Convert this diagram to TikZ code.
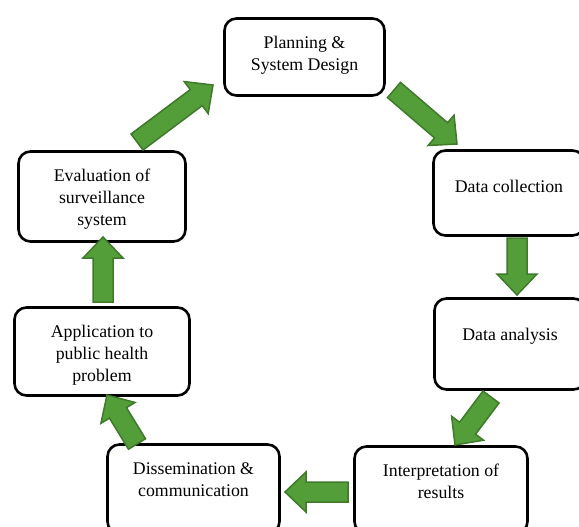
\documentclass[tikz,border=0pt]{standalone}
\usepackage{fontspec}
\setmainfont{Liberation Serif}
\usetikzlibrary{calc,positioning}
\definecolor{arrowgreen}{RGB}{84,158,58}
\definecolor{arrowedge}{RGB}{62,122,42}
% wide green arrow from #1 (tail) to #2 (tip)
\newcommand{\blockarrow}[2]{%
  \coordinate (hb) at ($(#2)!21pt!(#1)$);
  \filldraw[flow] ($(#1)!10pt!90:(#2)$) -- ($(hb)!10pt!90:(#2)$) -- ($(hb)!20pt!90:(#2)$) -- (#2)
    -- ($(hb)!20pt!-90:(#2)$) -- ($(hb)!10pt!-90:(#2)$) -- ($(#1)!10pt!-90:(#2)$) -- cycle;}

\begin{document}
\begin{tikzpicture}[x=1pt,y=-1pt,
  box/.style={draw, line width=2.6pt, rounded corners=12pt},
  lbl/.style={font=\fontsize{17.8}{22}\selectfont, align=center, inner sep=0pt},
  flow/.style={fill=arrowgreen, draw=arrowedge, line width=1.5pt, line join=miter}]
				\useasboundingbox (0,0) rectangle (579,527);
				
				\node[box, minimum width=160pt, minimum height=77pt] (plan) at (304.5,57) {};
				\node[lbl, below=19pt of plan.north] (plan-txt) {Planning \&\\System Design};
				
				\node[box, minimum width=151pt, minimum height=85pt] (collect) at (509,193) {};
				\node[lbl, below=31pt of collect.north] (collect-txt) {Data collection};
				
				\node[box, minimum width=151pt, minimum height=91pt] (analysis) at (510,344) {};
				\node[lbl, below=31pt of analysis.north] (analysis-txt) {Data analysis};
				
				\node[box, minimum width=173pt, minimum height=87pt] (interp) at (441,490) {};
				\node[lbl, below=19pt of interp.north] (interp-txt) {Interpretation of\\results};
				
				\node[box, minimum width=172pt, minimum height=89pt] (dissem) at (193.5,489) {};
				\node[lbl, below=19pt of dissem.north] (dissem-txt) {Dissemination \&\\communication};
				
				\node[box, minimum width=175pt, minimum height=88pt] (appl) at (102,351.5) {};
				\node[lbl, below=19pt of appl.north] (appl-txt) {Application to\\public health\\problem};
				
				\node[box, minimum width=167pt, minimum height=90pt] (eval) at (102,196.5) {};
				\node[lbl, below=19pt of eval.north] (eval-txt) {Evaluation of\\surveillance\\system};
				
				% arrow ends
				\coordinate (eval-out) at (137,142);
				\coordinate (plan-in) at (213,85);
				\coordinate (plan-out) at (394,90);
				\coordinate (collect-in) at (457,144);
				\coordinate (collect-out) at (517,238);
				\coordinate (analysis-in) at (517,295);
				\coordinate (analysis-out) at (491,397);
				\coordinate (interp-in) at (455,445);
				\coordinate (interp-out) at (348,492);
				\coordinate (dissem-in) at (285,492);
				\coordinate (dissem-out) at (137,444);
				\coordinate (appl-in) at (107,395);
				\coordinate (appl-out) at (103,302);
				\coordinate (eval-in) at (103,237);
				
				\blockarrow{eval-out}{plan-in}
				\blockarrow{plan-out}{collect-in}
				\blockarrow{collect-out}{analysis-in}
				\blockarrow{analysis-out}{interp-in}
				\blockarrow{interp-out}{dissem-in}
				\blockarrow{dissem-out}{appl-in}
				\blockarrow{appl-out}{eval-in}
\end{tikzpicture}
\end{document}
